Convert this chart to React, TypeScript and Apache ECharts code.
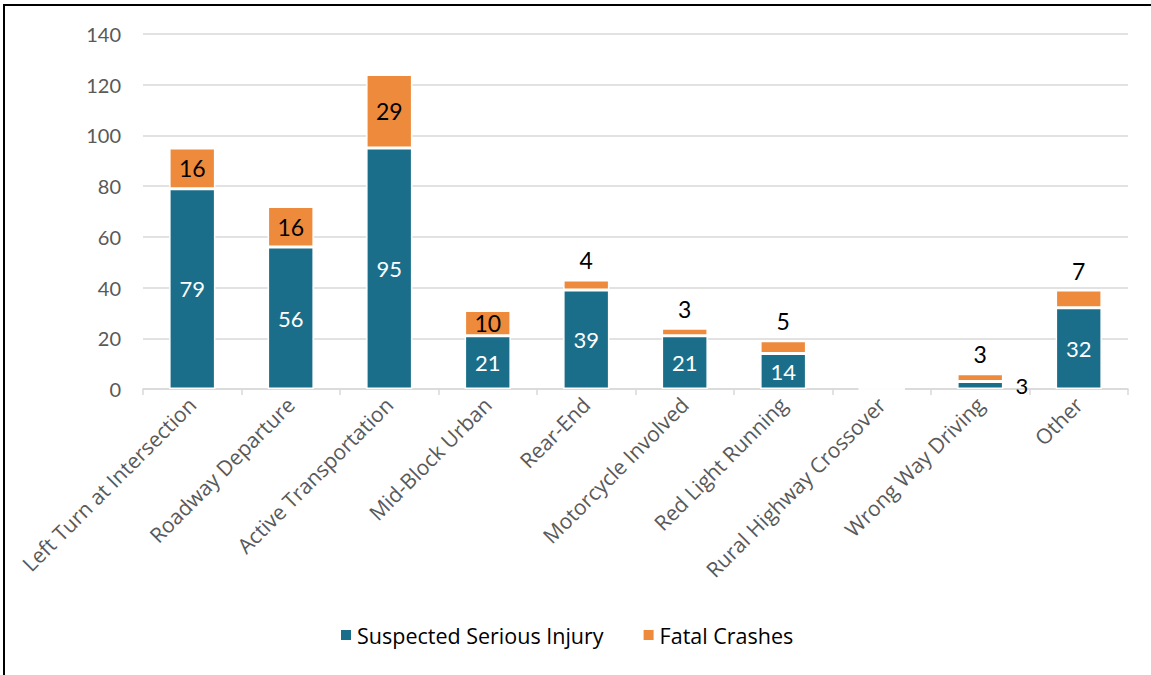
import React, { useEffect, useRef } from "react";
import * as echarts from "echarts";

const categories = [
  "Left Turn at Intersection",
  "Roadway Departure",
  "Active Transportation",
  "Mid-Block Urban",
  "Rear-End",
  "Motorcycle Involved",
  "Red Light Running",
  "Rural Highway Crossover",
  "Wrong Way Driving",
  "Other",
];
const seriousInjury = [79, 56, 95, 21, 39, 21, 14, 0, 3, 32];
const fatalCrashes = [16, 16, 29, 10, 4, 3, 5, 0, 3, 7];
const yTicks = { min: 0, max: 140, interval: 20 };

const BLUE = "#1a6e8a";
const ORANGE = "#ee8a3c";
const FONT = "Lato, 'Open Sans', sans-serif";
const WIDE = "'Open Sans', Lato, sans-serif";

export default function App() {
  const ref = useRef<HTMLDivElement>(null);
  useEffect(() => {
    if (!ref.current) return;
    const chart = echarts.init(ref.current, undefined, { renderer: "svg" });
    const injuryData = seriousInjury.map((v) => ({
      value: v,
      label:
        v === 0
          ? { show: false }
          : v < 5
          ? { show: true, position: "right", color: "#000", distance: 12 }
          : { show: true, position: "inside", color: "#fff" },
    }));
    const fatalData = fatalCrashes.map((v) => ({
      value: v,
      label:
        v === 0
          ? { show: false }
          : v < 8
          ? { show: true, position: "top", color: "#000", distance: 8 }
          : { show: true, position: "inside", color: "#000" },
    }));
    chart.setOption({
      animation: false,
      backgroundColor: "#fff",
      textStyle: { fontFamily: FONT },
      grid: { left: 143, right: 23, top: 34, bottom: 286, containLabel: false },
      legend: {
        bottom: 24,
        left: 334,
        itemWidth: 12,
        itemHeight: 12,
        itemGap: 38,
        icon: "rect",
        textStyle: { fontSize: 21.5, color: "#000", fontFamily: WIDE },
        data: ["Suspected Serious Injury", "Fatal Crashes"],
      },
      xAxis: {
        type: "category",
        data: categories,
        axisLine: { lineStyle: { color: "#d9d9d9", width: 1.5 } },
        axisTick: { show: true, length: 6, lineStyle: { color: "#d9d9d9", width: 1.5 } },
        axisLabel: {
          rotate: 45,
          interval: 0,
          fontSize: 21,
          color: "#595959",
          margin: 12,
          fontFamily: WIDE,
        },
      },
      yAxis: {
        type: "value",
        min: yTicks.min,
        max: yTicks.max,
        interval: yTicks.interval,
        axisLine: { show: false },
        axisTick: { show: false },
        splitLine: { lineStyle: { color: "#d9d9d9", width: 1.5 } },
        axisLabel: { fontSize: 20, color: "#595959", margin: 22, fontFamily: FONT },
      },
      series: [
        {
          name: "Suspected Serious Injury",
          type: "bar",
          stack: "total",
          barWidth: "47%",
          data: injuryData,
          itemStyle: { color: BLUE, borderColor: "#fff", borderWidth: 1.5 },
          label: { fontSize: 22, fontFamily: FONT },
        },
        {
          name: "Fatal Crashes",
          type: "bar",
          stack: "total",
          barWidth: "47%",
          data: fatalData,
          itemStyle: { color: ORANGE, borderColor: "#fff", borderWidth: 1.5 },
          label: { fontSize: 23, fontFamily: FONT },
        },
      ],
    });
    return () => chart.dispose();
  }, []);
  return (
    <div
      style={{
        position: "fixed",
        left: 3,
        top: 4,
        width: 1200,
        height: 720,
        border: "2px solid #000",
        background: "#fff",
        overflow: "hidden",
      }}
    >
      <div
        ref={ref}
        style={{ position: "absolute", left: -5, top: -6, width: 1151, height: 675 }}
      />
    </div>
  );
}
